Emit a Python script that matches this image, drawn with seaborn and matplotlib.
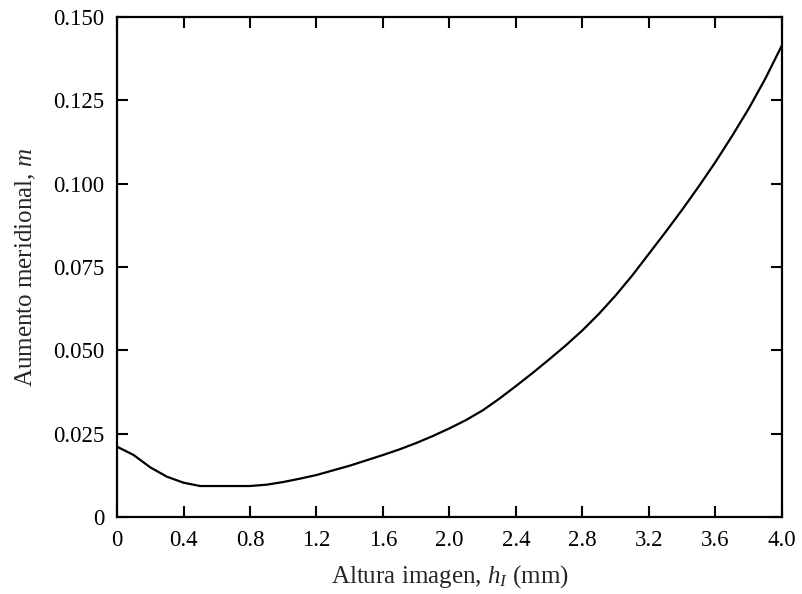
import numpy as np
import pandas as pd
import seaborn as sns
import matplotlib.pyplot as plt

# curve
altura = [0.0, 0.1, 0.2, 0.3, 0.4, 0.5, 0.6, 0.7, 0.8, 0.9,
          1.0, 1.1, 1.2, 1.3, 1.4, 1.5, 1.6, 1.7, 1.8, 1.9,
          2.0, 2.1, 2.2, 2.3, 2.4, 2.5, 2.6, 2.7, 2.8, 2.9,
          3.0, 3.1, 3.2, 3.3, 3.4, 3.5, 3.6, 3.7, 3.8, 3.9, 4.0]
aumento = [0.0211, 0.0186, 0.0149, 0.0121, 0.0103, 0.0093, 0.0093, 0.0093, 0.0093, 0.0097,
           0.0105, 0.0115, 0.0126, 0.0140, 0.0154, 0.0170, 0.0186, 0.0203, 0.0222, 0.0243,
           0.0266, 0.0291, 0.0320, 0.0355, 0.0393, 0.0432, 0.0473, 0.0515, 0.0560, 0.0610,
           0.0665, 0.0725, 0.0790, 0.0855, 0.0922, 0.0992, 0.1065, 0.1143, 0.1225, 0.1315, 0.1415]

xticks = [0, 0.4, 0.8, 1.2, 1.6, 2.0, 2.4, 2.8, 3.2, 3.6, 4.0]
xtick_labels = ['0', '0.4', '0.8', '1.2', '1.6', '2.0', '2.4', '2.8', '3.2', '3.6', '4.0']
yticks = [0, 0.025, 0.05, 0.075, 0.1, 0.125, 0.15]
ytick_labels = ['0', '0.025', '0.050', '0.075', '0.100', '0.125', '0.150']

df = pd.DataFrame({'h': altura, 'm': aumento})

sns.set_style('ticks')
plt.rcParams['font.family'] = ['Liberation Serif', 'DejaVu Serif']
plt.rcParams['mathtext.fontset'] = 'custom'
plt.rcParams['mathtext.it'] = 'Liberation Serif:italic'
plt.rcParams['mathtext.rm'] = 'Liberation Serif'

fig = plt.figure(figsize=(8.02, 5.94), dpi=100)
ax = fig.add_axes([0.1459, 0.1296, 0.8291, 0.8418])

sns.lineplot(data=df, x='h', y='m', color='black', linewidth=1.6, ax=ax)

ax.set_xlim(0, 4.0)
ax.set_ylim(0, 0.15)
ax.set_xticks(xticks)
ax.set_xticklabels(xtick_labels)
ax.set_yticks(yticks)
ax.set_yticklabels(ytick_labels)
ax.tick_params(direction='in', length=8, width=1.5, labelsize=16.5,
               top=True, right=True, pad=9, colors='black')
for s in ax.spines.values():
    s.set_linewidth(1.6)
    s.set_color('black')

ax.set_xlabel(r'Altura imagen, $h_{I}$ (mm)', fontsize=18, labelpad=9)
ax.set_ylabel(r'Aumento meridional, $m$', fontsize=18, labelpad=11)

fig.savefig('out.png', dpi=100)
